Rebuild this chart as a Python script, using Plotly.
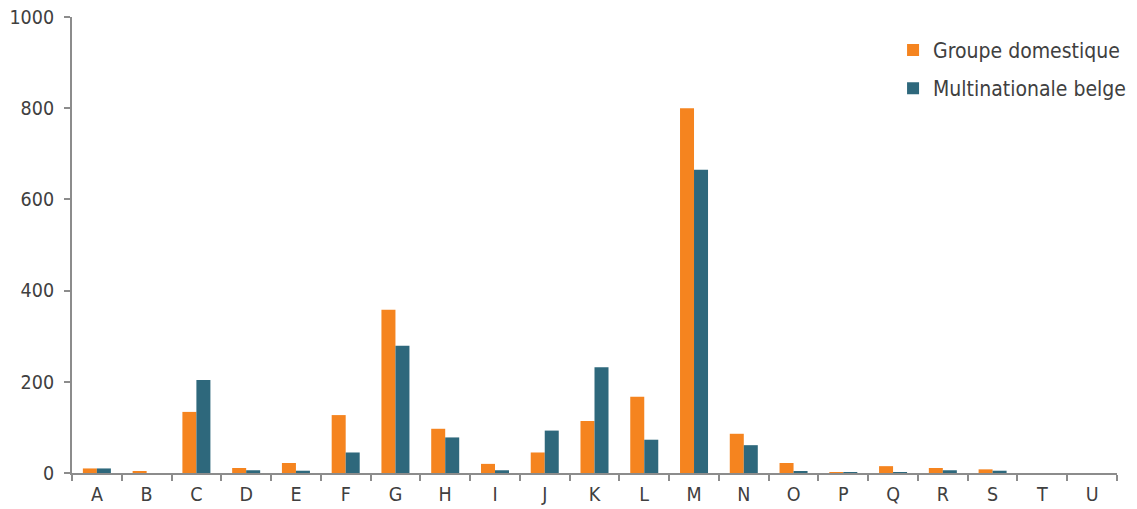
import plotly.graph_objects as go

categories = ["A","B","C","D","E","F","G","H","I","J","K","L","M","N","O","P","Q","R","S","T","U"]
groupe_domestique = [10, 3, 134, 11, 22, 127, 358, 97, 20, 45, 114, 167, 800, 86, 22, 2, 15, 11, 8, 0, 0]
multinationale_belge = [10, 0, 204, 6, 5, 45, 279, 78, 6, 93, 232, 73, 665, 61, 4, 1, 1, 6, 5, 0, 0]
y_ticks = [0, 200, 400, 600, 800, 1000]

font_family = "DejaVu Sans Condensed, DejaVu Sans, sans-serif"

fig = go.Figure()
fig.add_trace(go.Bar(x=categories, y=groupe_domestique, name="Groupe domestique",
                     legendgroup="g1",
                     marker=dict(color="#F5841F", line=dict(width=0))))
fig.add_trace(go.Bar(x=categories, y=multinationale_belge, name="Multinationale belge",
                     legendgroup="g2",
                     marker=dict(color="#2E687C", line=dict(width=0))))

fig.update_layout(
    width=1137, height=509,
    margin=dict(l=72, r=20, t=17, b=36, autoexpand=False),
    plot_bgcolor="white", paper_bgcolor="white",
    barmode="group", bargap=0.437, bargroupgap=0,
    font=dict(family=font_family, size=19.5, color="#404040"),
    legend=dict(x=0.7857, y=0.972, xanchor="left", yanchor="top",
                font=dict(size=21, color="#404040"), bgcolor="rgba(0,0,0,0)",
                traceorder="grouped", tracegroupgap=8),
    showlegend=True,
)
fig.update_xaxes(showline=True, linecolor="#8c8c8c", linewidth=2, ticks="outside",
                 tickson="boundaries", ticklen=6, tickcolor="#8c8c8c", tickwidth=2,
                 showgrid=False, zeroline=False, automargin=False, ticklabelstandoff=3)
fig.update_yaxes(range=[0, 1000], tickvals=y_ticks, showline=True, linecolor="#8c8c8c",
                 linewidth=2, ticks="outside", ticklen=6, tickcolor="#8c8c8c", tickwidth=2,
                 showgrid=False, zeroline=False, automargin=False, ticklabelstandoff=6)

fig.write_html("out.html", config={"displayModeBar": False},
               post_script="document.body.style.margin='0';")
